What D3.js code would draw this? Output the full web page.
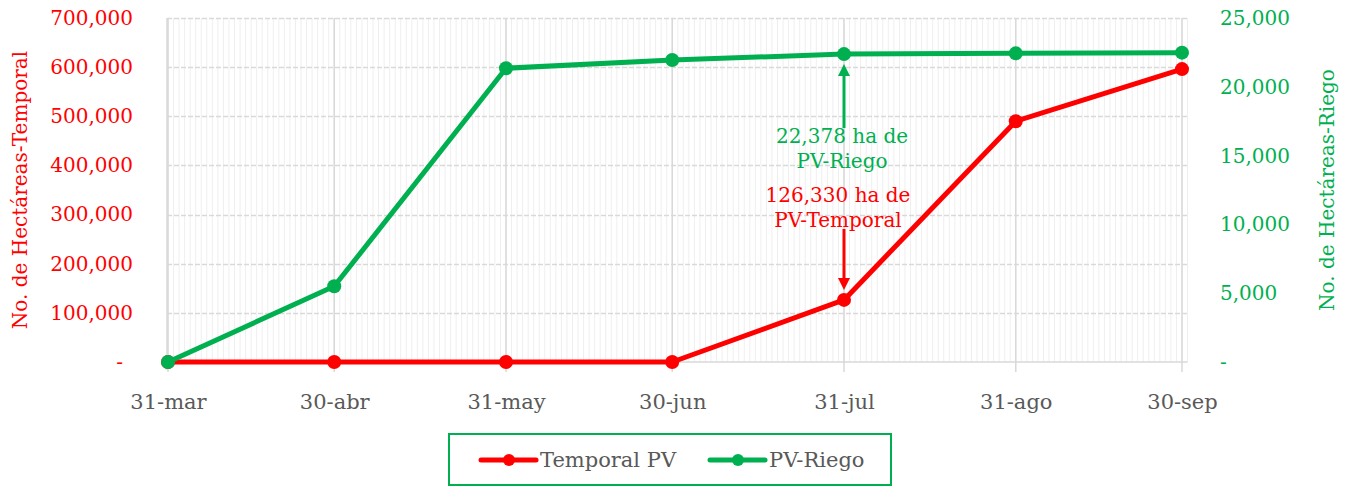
<!DOCTYPE html>
<html>
<head>
<meta charset="utf-8">
<script src="https://cdn.jsdelivr.net/npm/d3@7"></script>
<style>
  body { margin: 0; background: #fff; }
  svg { display: block; font-family: "DejaVu Serif", serif; }
</style>
</head>
<body>
<svg id="chart" width="1350" height="487"></svg>
<script>
// data
var dates = ["2021-03-31", "2021-04-30", "2021-05-31", "2021-06-30", "2021-07-31", "2021-08-31", "2021-09-30"]
var dateLabels = ["31-mar", "30-abr", "31-may", "30-jun", "31-jul", "31-ago", "30-sep"]
var temporal = [0, 0, 0, 0, 126330, 490000, 596000]
var riego = [0, 5500, 21350, 21950, 22378, 22430, 22480]
var leftTicks = [0, 100000, 200000, 300000, 400000, 500000, 600000, 700000]
var rightTicks = [0, 5000, 10000, 15000, 20000, 25000]

var RED = "#ff0000", GREEN = "#00b050", GRAY = "#595959"
var parse = d3.timeParse("%Y-%m-%d")
var days = dates.map(parse)

var svg = d3.select("#chart")
var plotTop = 18, plotBottom = 362, plotLeft = 168, plotRight = 1182

var x = d3.scaleTime().domain([days[0], days[days.length - 1]]).range([plotLeft, plotRight])
var yL = d3.scaleLinear().domain([0, 700000]).range([plotBottom, plotTop])
var yR = d3.scaleLinear().domain([0, 25000]).range([plotBottom, plotTop])

// minor gridlines (daily)
var end = d3.timeDay.offset(days[days.length - 1], 1)
svg.append("g").selectAll("line")
  .data(d3.timeDay.range(days[0], d3.timeDay.offset(end, 1)))
  .join("line")
  .attr("x1", d => x(d)).attr("x2", d => x(d))
  .attr("y1", plotTop).attr("y2", plotBottom)
  .attr("stroke", "#efefef").attr("stroke-width", 1)

// horizontal dashed gridlines
svg.append("g").selectAll("line")
  .data(leftTicks.slice(1))
  .join("line")
  .attr("x1", plotLeft - 1).attr("x2", x(end))
  .attr("y1", d => Math.round(yL(d)) + 0.5).attr("y2", d => Math.round(yL(d)) + 0.5)
  .attr("stroke", "#d9d9d9").attr("stroke-width", 1.5)
  .attr("stroke-dasharray", "5,2")

// major vertical gridlines
svg.append("g").selectAll("line")
  .data(days)
  .join("line")
  .attr("x1", d => x(d)).attr("x2", d => x(d))
  .attr("y1", plotTop).attr("y2", plotBottom + 10)
  .attr("stroke", "#d9d9d9").attr("stroke-width", 1.5)

// base lines
svg.append("line")
  .attr("x1", plotLeft - 1).attr("x2", x(end))
  .attr("y1", plotBottom).attr("y2", plotBottom)
  .attr("stroke", "#d9d9d9").attr("stroke-width", 1.5)
svg.append("line")
  .attr("x1", plotLeft - 1).attr("x2", plotLeft - 1)
  .attr("y1", plotTop).attr("y2", plotBottom + 8)
  .attr("stroke", "#d9d9d9").attr("stroke-width", 1.5)

// axes
var fmt = d => d === 0 ? "-" : d3.format(",")(d)
var axL = svg.append("g").attr("transform", "translate(133,0)")
  .call(d3.axisLeft(yL).tickValues(leftTicks).tickFormat(fmt).tickSize(0).tickPadding(0))
axL.select(".domain").remove()
axL.selectAll("text").attr("fill", RED).style("font-size", "20px").style("font-family", "DejaVu Serif")
axL.selectAll("text").filter(d => d === 0).attr("dx", -10)

var axR = svg.append("g").attr("transform", "translate(1220,0)")
  .call(d3.axisRight(yR).tickValues(rightTicks).tickFormat(fmt).tickSize(0).tickPadding(0))
axR.select(".domain").remove()
axR.selectAll("text").attr("fill", GREEN).style("font-size", "20px").style("font-family", "DejaVu Serif")

var axX = svg.append("g").attr("transform", "translate(0,394)")
  .call(d3.axisBottom(x).tickValues(days).tickFormat((d, i) => dateLabels[i]).tickSize(0).tickPadding(0))
axX.select(".domain").remove()
axX.selectAll("text").attr("fill", GRAY).style("font-size", "21px").style("font-family", "DejaVu Serif")

// axis titles
svg.append("text")
  .attr("transform", "translate(27,190) rotate(-90)")
  .attr("text-anchor", "middle")
  .attr("fill", RED).style("font-size", "20px")
  .text("No. de Hectáreas-Temporal")
svg.append("text")
  .attr("transform", "translate(1334,190) rotate(-90)")
  .attr("text-anchor", "middle")
  .attr("fill", GREEN).style("font-size", "20px")
  .text("No. de Hectáreas-Riego")

// series
function drawSeries(values, scale, color) {
  var pts = days.map((d, i) => [x(d), scale(values[i])])
  svg.append("path")
    .attr("d", d3.line()(pts))
    .attr("fill", "none").attr("stroke", color).attr("stroke-width", 5)
    .attr("stroke-linejoin", "round")
  svg.append("g").selectAll("circle")
    .data(pts).join("circle")
    .attr("cx", d => d[0]).attr("cy", d => d[1]).attr("r", 7)
    .attr("fill", color)
}
drawSeries(temporal, yL, RED)
drawSeries(riego, yR, GREEN)

// annotations
function arrow(xp, y1, y2, color) {
  var dir = y2 > y1 ? 1 : -1
  svg.append("line")
    .attr("x1", xp).attr("x2", xp)
    .attr("y1", y1).attr("y2", y2 - dir * 10)
    .attr("stroke", color).attr("stroke-width", 3)
  svg.append("path")
    .attr("d", d3.line()([[xp - 6, y2 - dir * 12], [xp + 6, y2 - dir * 12], [xp, y2]]) + "Z")
    .attr("fill", color)
}
var xa = x(days[4])
arrow(xa, 128, yR(riego[4]) + 10, GREEN)
arrow(xa, 229, yL(temporal[4]) - 10, RED)

var annG = svg.append("text").attr("text-anchor", "middle").attr("fill", GREEN).style("font-size", "20px")
annG.append("tspan").attr("x", xa - 2).attr("y", 143).text("22,378 ha de")
annG.append("tspan").attr("x", xa - 2).attr("y", 168).text("PV-Riego")
var annR = svg.append("text").attr("text-anchor", "middle").attr("fill", RED).style("font-size", "20px")
annR.append("tspan").attr("x", xa - 6).attr("y", 202).text("126,330 ha de")
annR.append("tspan").attr("x", xa - 6).attr("y", 227).text("PV-Temporal")

// legend
svg.append("rect")
  .attr("x", 449).attr("y", 434).attr("width", 442).attr("height", 51)
  .attr("fill", "none").attr("stroke", GREEN).attr("stroke-width", 2)
var legend = [
  {name: "Temporal PV", color: RED, x: 481},
  {name: "PV-Riego", color: GREEN, x: 710}
]
legend.forEach(function(l) {
  svg.append("line")
    .attr("x1", l.x).attr("x2", l.x + 55).attr("y1", 460).attr("y2", 460)
    .attr("stroke", l.color).attr("stroke-width", 5).attr("stroke-linecap", "round")
  svg.append("circle").attr("cx", l.x + 28).attr("cy", 460).attr("r", 6).attr("fill", l.color)
  svg.append("text")
    .attr("x", l.x + 59).attr("y", 467)
    .attr("fill", GRAY).style("font-size", "21px")
    .text(l.name)
})
</script>
</body>
</html>
